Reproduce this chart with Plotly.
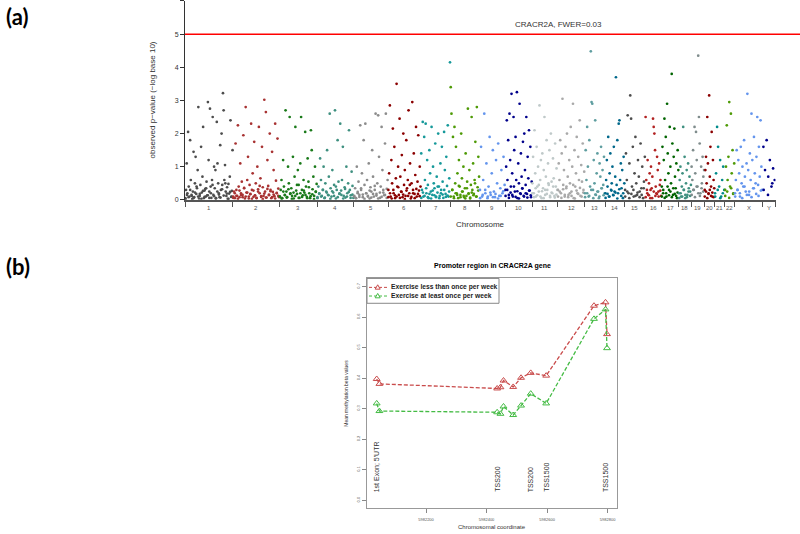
import plotly.graph_objects as go

W, H = 800, 534

# ---------------- Panel (a): Manhattan plot data ----------------
chrom_labels = ["1", "2", "3", "4", "5", "6", "7", "8", "9", "10", "11", "12",
                "13", "14", "15", "16", "17", "18", "19", "20", "21", "22", "X", "Y"]
# relative width of each chromosome block on the x axis (number of probes, hundreds)
chrom_sizes = [479, 466, 376, 368, 342, 329, 295, 291, 257, 269, 256, 270,
               205, 196, 206, 162, 172, 126, 132, 101, 102, 99, 280, 129]
chrom_colors = ["#4d4d4d", "#a83232", "#1a7a1a", "#3f9080", "#8c8c8c", "#8b0000",
                "#16999a", "#4e9a06", "#6495ed", "#00008b", "#bfc9c9", "#a9a9a9",
                "#5f9ea0", "#00688b", "#4d4d4d", "#b22222", "#006400", "#3f9080",
                "#7f8c8c", "#8b0000", "#008b8b", "#4e9a06", "#6495ed", "#00008b"]

chr1 = [.05, .3, 1.1, .2, 2.05, .4, .1, 1.8, .6, .15, .02, .25, 1.45, .08, .5, 1.3, .18, .35, .9, 2.8,
        .04, .12, .45, 1.6, .22, .7, 2.2, .05, .28, .33, .1, .55, .14, 2.95, 1.2, .25, 2.75, .4, .06, .6,
        2.5, .15, 1.0, .35, .9, .05, 2.35, 1.1, .5, .2, .08, 1.65, .3, 2.0, .45, 3.22, 2.7, .6, 1.05, .25,
        .12, .38, .03, .48, .19, .7, 2.4, .09, .27, 1.5]
chr2 = [.1, .25, .05, 1.7, .3, .12, 2.25, .4, .08, 1.1, .2, .55, .15, 1.95, .35, .04, 2.8, .22, .6, 1.3,
        .1, .45, .18, 2.3, .03, .8, .28, 1.75, .14, .5, .06, 1.0, .32, 2.2, .2, .65, .09, 1.6, .38, .12,
        3.02, .25, 2.65, .07, 1.2, .42, .16, 2.0, .3, .05, 1.45, .24, .9, .11, 2.3, .58, .2, 1.85, .34, .08]
chr3 = [.1, .3, .6, .05, 1.2, .4, .15, 2.7, .25, .08, 1.0, .5, 2.5, .2, .35, .12, 1.3, .04, .7, 2.2,
        .28, .18, .9, .45, .06, 1.1, 2.5, .3, .14, .6, .22, 2.05, .4, .09, 1.25, .55, .2, .05, 2.1, 1.5,
        .32, .7, .12, 1.0, .25, .48]
chr4 = [.08, .4, .2, 1.25, .6, .12, .3, 1.0, .05, .5, .25, 1.5, .15, .7, 2.6, .35, .1, .9, .22, .45,
        2.7, .04, .3, 1.8, .55, .18, 2.3, .28, .6, 1.6, .12, .38, .07, 1.0, .2, .5, 2.1, .3, .14, .85,
        .42, .06]
chr5 = [.1, .35, .05, 1.0, .2, .55, .15, 2.25, .3, .8, .08, 1.8, .45, 2.3, .2, .6, .12, 1.1, .04, .38,
        .25, 1.5, .7, .1, .3, 2.6, .18, .5, 2.55, 1.3, .06, .4, 2.2, .9, .22, .14, 1.7, 2.6, .33, .6]
chr6 = [.3, .8, 2.85, .1, 1.2, .5, 2.15, .2, 1.6, .05, .65, 3.5, .4, 1.0, .15, 2.45, .7, .25, 1.35, .08,
        2.0, .45, .9, .12, 1.8, .35, .6, 2.7, .2, 1.1, .04, .5, 2.95, .3, 1.4, .18, .75, 2.2, .1, .55,
        1.95, .28, 1.0, .4]
chr7 = [1.4, .3, 2.35, .1, 1.9, .6, 2.3, .2, 1.2, .45, .05, 1.5, .8, .25, 2.2, .15, 1.0, .5, .35, 1.7,
        .08, .7, .22, 2.0, .4, .12, 1.1, .3, 1.6, .55, .06, 2.05, .9, .18, 1.3, .42, 2.25, .1, .65, 4.15]
chr8 = [3.4, 2.6, .3, 1.9, .1, 2.2, .5, 1.6, .2, .8, .05, 1.2, .4, .15, 2.0, .65, .25, 1.0, .08, .35,
        1.4, .12, .55, 2.75, .2, .9, .04, .45, 2.5, .3, 1.1, .18, .6, 1.75, .1, 2.8, .38, 1.3, .7]
chr9 = [.3, 1.6, .1, .6, 2.6, .2, 1.1, .05, .4, 1.9, .15, .8, 1.5, .25, .08, 1.2, .5, 1.7, .12, .35,
        .9, .2, 1.3, .45]
chr10 = [.3, 1.0, 2.4, .6, 1.8, .15, 2.6, 1.2, .4, 3.2, .8, .1, 2.5, 1.5, .25, 1.9, .6, 3.25, .05, 1.1,
         .5, 2.9, .2, 1.4, .7, .35, 1.75, .12, 2.0, .9, .45, 2.5, .18, 1.3, .65, 2.1, .28, 1.6, .08, .55]
chr11 = [.5, 1.3, .2, 2.1, .8, .1, 1.6, .4, 1.0, .25, 2.85, .6, 1.2, .05, 1.4, .35, .9, 2.5, .15, .7,
         1.8, .3, 1.1, .45, 1.5, .08, 2.0, .55, .2, 1.25, .65, .12, 1.7, .4, .95, .3]
chr12 = [.3, 1.1, .6, 1.8, .2, 1.4, 3.05, .45, .9, .1, 1.6, .35, 2.0, .7, .15, 1.2, .5, 2.2, .25, 1.0,
         2.9, .05, 1.5, .4, .8, 1.9, .2, 1.3, .6, 2.4, .12, 1.05, .55, 1.7, .3, .85]
chr13 = [.2, 1.5, .6, 2.2, 1.0, .1, 1.8, .4, 4.48, 2.95, 2.9, .3, 1.2, .5, 2.4, .15, .8, 1.4, .25, .05,
         1.1, .7, 1.6, .35, .9, .45, 1.3, .2]
chr14 = [.2, .6, 1.2, .4, 1.9, .1, .8, 1.4, .3, .5, 1.0, .15, 1.6, .25, .7, 3.7, .45, 1.8, .2, 2.3,
         2.4, .6, 1.1, .35, .9, .05, 1.3, .5]
chr15 = [.3, 1.4, .6, 2.55, .2, 1.1, 3.15, 2.45, .4, 1.6, .1, .8, 1.9, .5, .15, 1.2, .7, .25, 1.7, .35,
         1.0, .05, .55, 1.3]
chr16 = [2.5, .6, .3, 1.2, .15, .5, .8, .05, 1.0, .35, .7, 2.45, 2.2, 2.0, 1.5, .4, .2, 1.3, .9, .25,
         1.1, .45, .6, .12]
chr17 = [.4, 1.6, .2, 1.2, 2.45, .6, 1.9, .1, 2.9, 1.4, .8, .3, 2.2, 1.0, .5, 3.8, 1.7, .15, 1.3, 2.15,
         .7, .35, 1.1, .05, 1.5, .9]
chr18 = [.2, .6, 1.0, .1, .4, .8, 2.2, .3, 1.3, .05, .5, .9, .15, 1.1, .35, .7, .25, .45]
chr19 = [1.0, .6, 1.5, .3, 2.2, .8, 2.05, 1.2, .4, 4.35, 2.5, 1.7, .2, 1.0, .5, 1.3, .7, .9]
chr20 = [.3, .9, 1.3, .5, 2.5, 1.1, .2, 3.15, .7, 1.6, .4, 2.05, .1, 1.2, .6, .35]
chr21 = [.2, .8, 2.2, 1.6, .4, 1.2, .1, .6, 1.0, .3]
chr22 = [.3, 1.0, 2.25, .6, 1.3, 2.95, .4, 2.6, .8, 1.5, .2, 1.1]
chrX = [.2, .6, 1.5, .3, 1.2, .8, .1, 1.6, .5, 1.0, .4, 1.8, .7, .25, 1.1, 3.2, .9, .15, 1.4, .6,
        2.6, 1.2, .35, 1.9, .8, .5, 1.3, 2.5, .45, 1.6, .7, 2.4, 1.0, .3]
chrY = [1.6, .9, 1.8, .7, 1.2, .4, .95, .6]

# additional probes in the dense low band (-log10 p < 0.5)
low1 = [.02, .15, .08, .3, .12, .05, .22, .4, .1, .18, .03, .27, .09, .35, .14, .06, .2, .45, .11, .04,
        .25, .16, .07, .32, .13, .5, .19, .03, .24, .1]
low2 = [.06, .2, .12, .03, .28, .15, .08, .36, .1, .22, .04, .17, .3, .09, .13, .05, .25, .42, .11, .02,
        .19, .07, .33, .14, .26, .08, .16, .04, .21, .12]
low3 = [.1, .04, .25, .14, .07, .32, .18, .03, .22, .12, .45, .06, .2, .09, .28, .15, .05, .38, .11, .17,
        .02, .24]
low4 = [.05, .18, .1, .3, .07, .22, .14, .03, .26, .12, .4, .08, .2, .15, .04, .33, .1, .24, .06, .16]
low5 = [.12, .05, .24, .09, .35, .16, .03, .2, .1, .28, .07, .18, .42, .13, .04, .22, .09, .3, .15, .06]
low6 = [.08, .2, .04, .3, .14, .1, .38, .06, .24, .16, .02, .28, .12, .45, .09, .2, .05, .33, .18, .11]
low7 = [.06, .22, .12, .35, .08, .18, .04, .28, .14, .1, .4, .05, .2, .16, .3, .09, .13, .25]
low8 = [.1, .3, .05, .2, .15, .42, .08, .25, .12, .04, .35, .18, .07, .22, .14, .5, .1, .28]
low9 = [.05, .15, .3, .1, .22, .08, .18, .04, .12, .26]
low10 = [.12, .3, .06, .22, .15, .4, .09, .26, .04, .18, .34, .1, .2, .07, .28, .14]
low11 = [.2, .08, .35, .14, .45, .1, .26, .05, .3, .18, .5, .12, .22, .4, .07, .16]
low12 = [.1, .25, .06, .32, .15, .4, .08, .2, .12, .45, .04, .28, .18, .36, .1, .22]
low13 = [.08, .2, .12, .3, .05, .16, .25, .1, .35, .14]
low14 = [.06, .18, .1, .28, .14, .22, .04, .32, .12, .2]
low15 = [.1, .25, .05, .18, .3, .12, .22, .08, .15, .35]
low16 = [.08, .2, .14, .3, .05, .25, .12, .18, .1, .28]
low17 = [.1, .3, .06, .2, .4, .14, .25, .08, .35, .18, .12, .22]
low18 = [.05, .2, .1, .3, .15, .08, .25, .12]
low19 = [.15, .3, .08, .4, .2, .12, .35, .25]
low20 = [.1, .25, .05, .18, .3, .12, .22, .08]
low21 = [.1, .3, .05, .2]
low22 = [.12, .25, .06, .35, .18]
lowX = [.1, .3, .2, .05, .4, .15, .25, .08, .35, .18, .12, .28]
lowY = [.3, .15, .5]

chrom_values = [chr1, chr2, chr3, chr4, chr5, chr6, chr7, chr8, chr9, chr10, chr11, chr12,
                chr13, chr14, chr15, chr16, chr17, chr18, chr19, chr20, chr21, chr22, chrX, chrY]
chrom_low = [low1, low2, low3, low4, low5, low6, low7, low8, low9, low10, low11, low12,
             low13, low14, low15, low16, low17, low18, low19, low20, low21, low22, lowX, lowY]

threshold = 5.0
threshold_label = "CRACR2A, FWER=0.03"
manhattan_yticks = [0, 1, 2, 3, 4, 5, 6]

# ---------------- Panel (b): promoter methylation data ----------------
coord = [5982037, 5982046, 5982435, 5982446, 5982456, 5982488, 5982514,
         5982546, 5982597, 5982755, 5982793, 5982798]
less_weekly = [0.397, 0.381, 0.366, 0.370, 0.392, 0.371, 0.401, 0.417, 0.408, 0.637, 0.648, 0.544]
atleast_weekly = [0.317, 0.292, 0.288, 0.283, 0.307, 0.279, 0.310, 0.349, 0.317, 0.594, 0.625, 0.498]
series_names = ["Exercise less than once per week", "Exercise at least once per week"]
region_labels = ["1st Exon; 5'UTR", "TSS200", "TSS200", "TSS1500", "TSS1500"]
region_coord = [5982037, 5982435, 5982546, 5982597, 5982793]
b_yticks = [0.0, 0.1, 0.2, 0.3, 0.4, 0.5, 0.6, 0.7]
b_xticks = [5982200, 5982400, 5982600, 5982800]

RED = "#c94b4b"
GREEN = "#44bb44"
series_colors = [RED, GREEN]

fig = go.Figure()

# Manhattan points
starts = []
acc = 0
for s in chrom_sizes:
    starts.append(acc)
    acc += s
total = acc
boundaries = starts + [total]
centers = [st + s / 2 for st, s in zip(starts, chrom_sizes)]

for st, s, vals, low, col in zip(starts, chrom_sizes, chrom_values, chrom_low, chrom_colors):
    n = len(vals)
    m = len(low)
    xs = [st + (i + 0.5) * s / n for i in range(n)] + [st + (j + 0.25) * s / m for j in range(m)]
    fig.add_trace(go.Scatter(x=xs, y=vals + low, mode="markers",
                             marker=dict(color=col, size=2.7, line=dict(width=0)),
                             xaxis="x", yaxis="y", showlegend=False, hoverinfo="skip"))

# Panel (b) lines
for name, vals, col in zip(series_names, [less_weekly, atleast_weekly], series_colors):
    fig.add_trace(go.Scatter(x=coord, y=vals, mode="lines+markers", name=name,
                             line=dict(color=col, dash="4px,2px", width=1.3),
                             marker=dict(symbol="triangle-up-open", size=6, color=col,
                                         line=dict(width=1)),
                             xaxis="x2", yaxis="y2", showlegend=False))

FONT = "Liberation Sans, Arial, sans-serif"


def px_x(p):
    return p / W


def px_y(p):
    return 1 - p / H


annotations = []
# panel letters
annotations.append(dict(text="<b>(a)</b>", x=px_x(4), y=px_y(17), xref="paper", yref="paper",
                        xanchor="left", yanchor="middle", showarrow=False,
                        font=dict(family="Lato, Noto Sans, sans-serif", size=22, color="black")))
annotations.append(dict(text="<b>(b)</b>", x=px_x(4), y=px_y(268), xref="paper", yref="paper",
                        xanchor="left", yanchor="middle", showarrow=False,
                        font=dict(family="Lato, Noto Sans, sans-serif", size=22, color="black")))
# chromosome labels
for lab, c in zip(chrom_labels, centers):
    annotations.append(dict(text=lab, x=c, y=px_y(209), xref="x", yref="paper",
                            xanchor="center", yanchor="middle", showarrow=False,
                            font=dict(family=FONT, size=6, color="#555")))
annotations.append(dict(text="Chromosome", x=total / 2, y=px_y(226), xref="x", yref="paper",
                        xanchor="center", yanchor="middle", showarrow=False,
                        font=dict(family=FONT, size=8, color="#333")))
annotations.append(dict(text="observed p\u2212value (\u2212log base 10)", x=px_x(152), y=px_y(101),
                        xref="paper", yref="paper", textangle=-90, xanchor="center", yanchor="middle",
                        showarrow=False, font=dict(family=FONT, size=8, color="#333")))
annotations.append(dict(text=threshold_label, x=px_x(558), y=threshold, xref="paper", yref="y",
                        xanchor="center", yanchor="bottom", yshift=3, showarrow=False,
                        font=dict(family=FONT, size=8, color="#333")))
# panel (b) texts
annotations.append(dict(text="<b>Promoter region in CRACR2A gene</b>", x=px_x(492), y=px_y(268),
                        xref="paper", yref="paper", xanchor="center", yanchor="middle",
                        showarrow=False, font=dict(family=FONT, size=7, color="black")))
annotations.append(dict(text="Mean methylation beta values", x=px_x(346), y=px_y(396),
                        xref="paper", yref="paper", textangle=-90, xanchor="center", yanchor="middle",
                        showarrow=False, font=dict(family=FONT, size=5, color="#333")))
annotations.append(dict(text="Chromosomal coordinate", x=px_x(492), y=px_y(530),
                        xref="paper", yref="paper", xanchor="center", yanchor="middle",
                        showarrow=False, font=dict(family=FONT, size=6, color="#333")))
for lab, c in zip(region_labels, region_coord):
    annotations.append(dict(text=lab, x=c, y=0.02, xref="x2", yref="y2", textangle=-90,
                            xanchor="center", yanchor="bottom", showarrow=False,
                            font=dict(family=FONT, size=7, color="#333")))

shapes = [dict(type="line", xref="paper", yref="y", x0=px_x(185), x1=1.0,
               y0=threshold, y1=threshold, line=dict(color="#ff0000", width=1.5))]

# compact R-style legend box for panel (b)
leg_left, leg_top, leg_right, leg_bottom = 367, 280, 499, 305
shapes.append(dict(type="rect", xref="paper", yref="paper", layer="above",
                   x0=px_x(leg_left), x1=px_x(leg_right), y0=px_y(leg_bottom), y1=px_y(leg_top),
                   line=dict(color="#888", width=1), fillcolor="white"))
for k, (name, col) in enumerate(zip(series_names, series_colors)):
    ry = 289 + 8.7 * k
    shapes.append(dict(type="line", xref="paper", yref="paper", layer="above",
                       x0=px_x(369), x1=px_x(387), y0=px_y(ry), y1=px_y(ry),
                       line=dict(color=col, width=1, dash="3px,2px")))
    tri = "M %.5f %.5f L %.5f %.5f L %.5f %.5f Z" % (
        px_x(375.2), px_y(ry + 1.8), px_x(380.2), px_y(ry + 1.8), px_x(377.7), px_y(ry - 2.6))
    shapes.append(dict(type="path", xref="paper", yref="paper", layer="above", path=tri,
                       line=dict(color=col, width=1), fillcolor="white"))
    annotations.append(dict(text="<b>%s</b>" % name, x=px_x(389), y=px_y(ry), xref="paper",
                            yref="paper", xanchor="left", yanchor="middle", showarrow=False,
                            font=dict(family=FONT, size=6.7, color="#222")))

fig.update_layout(
    width=W, height=H, autosize=False,
    margin=dict(l=0, r=0, t=0, b=0),
    paper_bgcolor="white", plot_bgcolor="white",
    font=dict(family=FONT, color="#333"),
    showlegend=False,
    xaxis=dict(domain=[px_x(185), px_x(775.5)], range=[0, total], anchor="y",
               tickmode="array", tickvals=boundaries, showticklabels=False,
               ticks="outside", ticklen=5, tickwidth=1, tickcolor="#555",
               showline=True, linecolor="#555", linewidth=2, showgrid=False, zeroline=False),
    yaxis=dict(domain=[px_y(201), px_y(1)], range=[0, 6], anchor="x",
               tickmode="array", tickvals=manhattan_yticks,
               ticks="outside", ticklen=4, tickcolor="#333",
               tickfont=dict(family=FONT, size=7, color="#333"),
               showline=True, linecolor="#333", linewidth=1, showgrid=False, zeroline=False),
    xaxis2=dict(domain=[px_x(367), px_x(617)], range=[5982005, 5982831], anchor="y2",
                tickmode="array", tickvals=b_xticks, ticktext=[str(v) for v in b_xticks],
                ticks="outside", ticklen=4, tickcolor="#888", ticklabelstandoff=3,
                tickfont=dict(family=FONT, size=4, color="#555"),
                showline=True, mirror=True, linecolor="#999", linewidth=1,
                showgrid=False, zeroline=False),
    yaxis2=dict(domain=[px_y(511), px_y(280)], range=[-0.026, 0.7264], anchor="x2",
                tickmode="array", tickvals=b_yticks, ticktext=["%.1f" % v for v in b_yticks],
                tickangle=-90, ticks="outside", ticklen=4, tickcolor="#888",
                tickfont=dict(family=FONT, size=4, color="#555"),
                showline=True, mirror=True, linecolor="#999", linewidth=1,
                showgrid=False, zeroline=False),
    annotations=annotations,
    shapes=shapes,
)

fig.write_html("out.html", config={"responsive": False, "displayModeBar": False},
               post_script="document.body.style.margin='0px';")
